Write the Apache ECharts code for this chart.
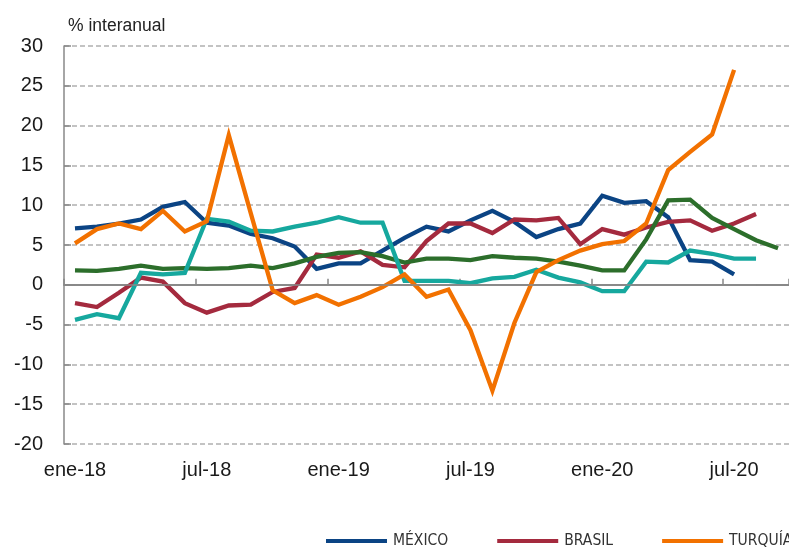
<!DOCTYPE html>
<html>
<head>
<meta charset="utf-8">
<script src="https://cdn.jsdelivr.net/npm/echarts@6/dist/echarts.min.js"></script>
<style>
  html, body { margin: 0; padding: 0; background: #fff; }
  #chart { width: 789px; height: 555px; }
</style>
</head>
<body>
<div id="chart"></div>
<script>
// meses ene-18 .. sep-20
const months = [
  'ene-18', 'feb-18', 'mar-18', 'abr-18', 'may-18', 'jun-18', 'jul-18', 'ago-18', 'sep-18', 'oct-18', 'nov-18', 'dic-18',
  'ene-19', 'feb-19', 'mar-19', 'abr-19', 'may-19', 'jun-19', 'jul-19', 'ago-19', 'sep-19', 'oct-19', 'nov-19', 'dic-19',
  'ene-20', 'feb-20', 'mar-20', 'abr-20', 'may-20', 'jun-20', 'jul-20', 'ago-20', 'sep-20'
]

const mexico = [7.1, 7.3, 7.7, 8.2, 9.8, 10.4, 7.8, 7.45, 6.4, 5.85, 4.8, 2.0,
  2.7, 2.7, 4.3, 5.9, 7.3, 6.7, 8.1, 9.3, 7.9, 6.0, 7.0, 7.7,
  11.2, 10.3, 10.5, 8.5, 3.1, 2.9, 1.3, null, null]

const brasil = [-2.3, -2.8, -1.0, 0.9, 0.4, -2.3, -3.5, -2.6, -2.5, -0.9, -0.4, 3.8,
  3.4, 4.2, 2.5, 2.2, 5.5, 7.7, 7.7, 6.5, 8.2, 8.1, 8.4, 5.1,
  7.0, 6.3, 7.2, 7.9, 8.1, 6.8, 7.7, 8.9, null]

const turquia = [5.2, 7.0, 7.7, 7.0, 9.3, 6.7, 8.0, 18.8, 9.0, -0.7, -2.3, -1.3,
  -2.5, -1.5, -0.3, 1.3, -1.5, -0.6, -5.7, -13.3, -4.8, 1.6, 3.1, 4.3,
  5.1, 5.5, 7.7, 14.4, 16.7, 18.9, 27.0, null, null]

const verde = [1.8, 1.75, 2.0, 2.4, 2.0, 2.1, 2.0, 2.1, 2.4, 2.1, 2.7, 3.5,
  4.0, 4.1, 3.6, 2.8, 3.3, 3.3, 3.1, 3.6, 3.4, 3.3, 2.9, 2.4,
  1.8, 1.8, 5.7, 10.6, 10.7, 8.4, 7.0, 5.6, 4.6]

const turquesa = [-4.4, -3.7, -4.2, 1.5, 1.3, 1.5, 8.3, 7.95, 6.8, 6.7, 7.3, 7.8,
  8.5, 7.8, 7.8, 0.5, 0.5, 0.5, 0.2, 0.8, 1.0, 1.9, 0.9, 0.3,
  -0.8, -0.8, 2.9, 2.8, 4.3, 3.9, 3.3, 3.3, null]

const yTicks = { min: -20, max: 30, step: 5 }

const chart = echarts.init(document.getElementById('chart'), null, { renderer: 'canvas' })

function lineSerie(name, data, color, extra) {
  return Object.assign({
    name,
    type: 'line',
    data,
    symbol: 'none',
    connectNulls: false,
    lineStyle: { width: 4.3, color, join: 'miter' },
    itemStyle: { color }
  }, extra || {})
}

chart.setOption({
  animation: false,
  textStyle: { fontFamily: 'Liberation Sans, Arial, sans-serif' },
  title: {
    text: '% interanual',
    left: 63,
    top: 12,
    textStyle: { fontSize: 17.5, fontWeight: 'normal', color: '#222' }
  },
  legend: {
    data: ['MÉXICO', 'BRASIL', 'TURQUÍA'],
    left: 326,
    top: 531,
    width: 600,
    padding: 0,
    orient: 'horizontal',
    icon: 'rect',
    itemWidth: 61,
    itemHeight: 4,
    itemGap: 49,
    textStyle: {
      fontFamily: 'Liberation Sans Narrow, DejaVu Sans Condensed, sans-serif',
      fontSize: 15.5,
      lineHeight: 20,
      color: '#333',
      padding: [0, 0, 0, 1]
    }
  },
  grid: { left: 64, top: 46, bottom: 111, right: -7 },
  xAxis: {
    type: 'category',
    data: months,
    boundaryGap: true,
    axisLine: { lineStyle: { color: '#888', width: 2 } },
    axisTick: { show: true, inside: true, length: 6, interval: 5, lineStyle: { color: '#888', width: 1.5 } },
    axisLabel: { interval: 5, fontSize: 20, color: '#1a1a1a', margin: 16 },
    splitLine: { show: false }
  },
  yAxis: {
    type: 'value',
    min: yTicks.min,
    max: yTicks.max,
    interval: yTicks.step,
    axisLine: { show: true, lineStyle: { color: '#888', width: 1.5 } },
    axisTick: { show: true, inside: true, length: 7, lineStyle: { color: '#888', width: 1.5 } },
    axisLabel: { fontSize: 20, color: '#1a1a1a', margin: 21 },
    splitLine: { show: true, lineStyle: { color: '#b0b0b0', width: 1.5, type: [5, 3] } }
  },
  series: [
    lineSerie('MÉXICO', mexico, '#0b4484', {
      markLine: {
        silent: true,
        symbol: 'none',
        label: { show: false },
        lineStyle: { color: '#8a8a8a', width: 1.5, type: 'solid' },
        data: [[{ coord: [months[0], 0] }, { coord: [months[31], 0] }]]
      }
    }),
    lineSerie('BRASIL', brasil, '#a42a3e'),
    lineSerie('Serie verde', verde, '#2c6e2b'),
    lineSerie('Serie turquesa', turquesa, '#16a89e'),
    lineSerie('TURQUÍA', turquia, '#f27100')
  ]
})
</script>
</body>
</html>
